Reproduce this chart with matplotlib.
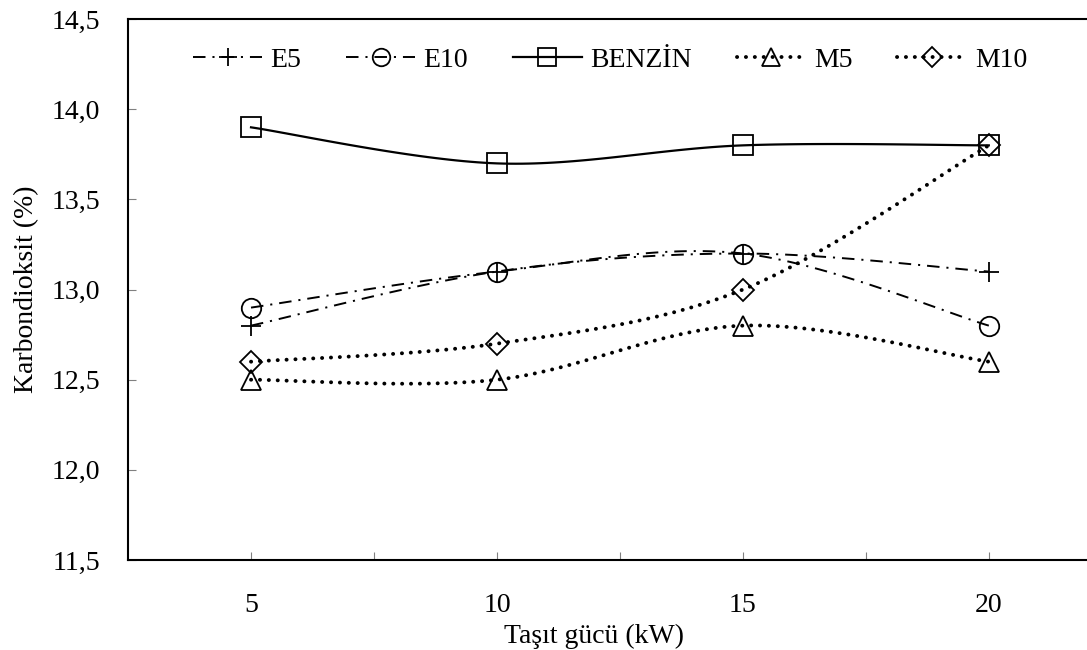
import numpy as np
import matplotlib.pyplot as plt
from matplotlib.ticker import FixedLocator, FuncFormatter


# data
power_kw = [5, 10, 15, 20]
benzin = [13.9, 13.7, 13.8, 13.8]
e5 = [12.8, 13.1, 13.2, 13.1]
e10 = [12.9, 13.1, 13.2, 12.8]
m5 = [12.5, 12.5, 12.8, 12.6]
m10 = [12.6, 12.7, 13.0, 13.8]

y_ticks = [11.5, 12.0, 12.5, 13.0, 13.5, 14.0, 14.5]


plt.rcParams["font.family"] = ["Liberation Serif", "DejaVu Serif"]
plt.rcParams["lines.scale_dashes"] = False


def smooth(x, y, n=40):
    # Excel-like smoothed line: cubic bezier with catmull-rom control points
    x = np.asarray(x, dtype=float)
    y = np.asarray(y, dtype=float)
    px = np.concatenate([[x[0]], x, [x[-1]]])
    py = np.concatenate([[y[0]], y, [y[-1]]])
    xs, ys = [], []
    t = np.linspace(0, 1, n)
    for i in range(len(x) - 1):
        p0 = np.array([px[i], py[i]])
        p1 = np.array([px[i + 1], py[i + 1]])
        p2 = np.array([px[i + 2], py[i + 2]])
        p3 = np.array([px[i + 3], py[i + 3]])
        c1 = p1 + (p2 - p0) / 6
        c2 = p2 - (p3 - p1) / 6
        b = ((1 - t) ** 3)[:, None] * p1 \
            + (3 * (1 - t) ** 2 * t)[:, None] * c1 \
            + (3 * (1 - t) * t ** 2)[:, None] * c2 \
            + (t ** 3)[:, None] * p2
        xs.extend(b[:, 0])
        ys.extend(b[:, 1])
    return np.array(xs), np.array(ys)


fig = plt.figure(figsize=(10.87, 6.5), dpi=100)
ax = fig.add_axes([0.1178, 0.1385, 0.905, 0.832])

dashdot = (0, (9, 5, 1.5, 5))
dotted = (0, (0.1, 6.3))

series = [
    ("E5", e5, "+", dashdot, 1.4, 14),
    ("E10", e10, "o", dashdot, 1.4, 14),
    ("BENZİN", benzin, "s", "-", 1.6, 14),
    ("M5", m5, "^", dotted, 2.8, 14),
    ("M10", m10, "D", dotted, 2.8, 11),
]

handles = []
for name, vals, mk, ls, lw, msize in series:
    sx, sy = smooth(power_kw, vals)
    cap = "round" if ls is dotted else "butt"
    ax.plot(sx, sy, color="black", linestyle=ls, linewidth=lw,
            dash_capstyle=cap)
    ax.plot(power_kw, vals, linestyle="none", marker=mk, markersize=msize,
            markerfacecolor="none", markeredgecolor="black",
            markeredgewidth=1.3)
    h, = ax.plot([], [], color="black", linestyle=ls, linewidth=lw,
                 dash_capstyle=cap, marker=mk, markersize=msize * 0.9,
                 markerfacecolor="none", markeredgecolor="black",
                 markeredgewidth=1.3)
    handles.append(h)

ax.set_xlim(2.5, 22.5)
ax.set_ylim(11.5, 14.5)

ax.xaxis.set_major_locator(FixedLocator(power_kw))
ax.xaxis.set_minor_locator(FixedLocator([7.5, 12.5, 17.5]))
ax.set_yticks(y_ticks)
ax.yaxis.set_major_formatter(FuncFormatter(lambda v, p: f"{v:.1f}".replace(".", ",")))

ax.tick_params(axis="both", which="both", direction="in", length=6,
               width=0.8, color="#808080", labelsize=20)
ax.tick_params(axis="x", pad=24)
ax.tick_params(axis="y", pad=20)

for s in ax.spines.values():
    s.set_linewidth(1.5)
ax.spines["right"].set_visible(False)

ax.set_xlabel("Taşıt gücü (kW)", fontsize=20)
ax.xaxis.set_label_coords(0.474, -0.118)
ax.set_ylabel("Karbondioksit (%)", fontsize=20)
ax.yaxis.set_label_coords(-0.09, 0.5)

ax.legend(handles, [s[0] for s in series], ncol=5, frameon=False,
          loc="center", bbox_to_anchor=(0.49, 0.924),
          fontsize=20, handlelength=2.5, columnspacing=1.6,
          handletextpad=0.3, borderpad=0)

fig.savefig("out.png", dpi=100)
